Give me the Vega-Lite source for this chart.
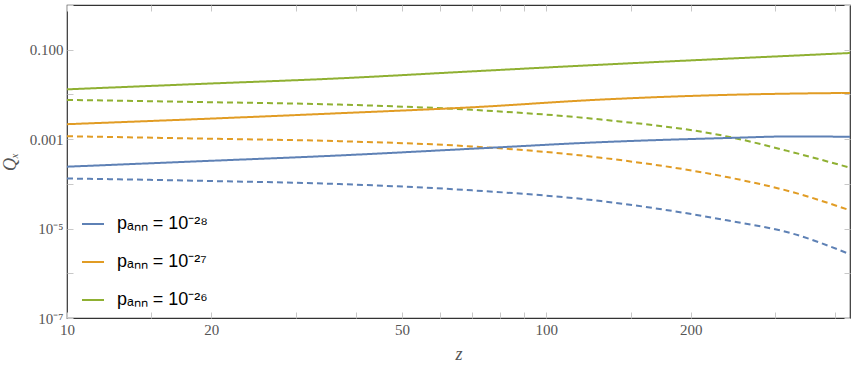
{
  "$schema": "https://vega.github.io/schema/vega-lite/v6.json",
  "width": 783,
  "height": 313,
  "autosize": {"type": "none"},
  "padding": {"left": 67, "top": 5, "right": 8, "bottom": 47},
  "background": "white",
  "config": {
    "view": {"stroke": "#333333", "strokeWidth": 1.2},
    "axis": {
      "grid": false,
      "domain": false,
      "labelFont": "Liberation Serif",
      "labelFontSize": 15,
      "labelColor": "#555555",
      "titleFont": "Liberation Serif",
      "titleFontStyle": "italic",
      "titleFontWeight": "normal",
      "titleFontSize": 18,
      "titleColor": "#555555",
      "tickColor": "#c8c8c8",
      "tickSize": -6,
      "tickWidth": 1
    },
    "legend": {
      "labelFont": "Liberation Sans",
      "labelFontSize": 18,
      "labelColor": "#000000",
      "symbolType": "stroke",
      "symbolSize": 484,
      "symbolStrokeWidth": 2,
      "symbolDash": [],
      "rowPadding": 17,
      "labelOffset": 12,
      "labelLimit": 300
    }
  },
  "data": {
    "values": [
      {"z": 10, "q": 0.0130, "p": "pₐₙₙ = 10⁻²⁶", "kind": "solid"},
      {"z": 19, "q": 0.0172, "p": "pₐₙₙ = 10⁻²⁶", "kind": "solid"},
      {"z": 37, "q": 0.0229, "p": "pₐₙₙ = 10⁻²⁶", "kind": "solid"},
      {"z": 70, "q": 0.0328, "p": "pₐₙₙ = 10⁻²⁶", "kind": "solid"},
      {"z": 130, "q": 0.0462, "p": "pₐₙₙ = 10⁻²⁶", "kind": "solid"},
      {"z": 238, "q": 0.0630, "p": "pₐₙₙ = 10⁻²⁶", "kind": "solid"},
      {"z": 326, "q": 0.0735, "p": "pₐₙₙ = 10⁻²⁶", "kind": "solid"},
      {"z": 430, "q": 0.0844, "p": "pₐₙₙ = 10⁻²⁶", "kind": "solid"},

      {"z": 10, "q": 0.00755, "p": "pₐₙₙ = 10⁻²⁶", "kind": "dashed"},
      {"z": 19, "q": 0.00675, "p": "pₐₙₙ = 10⁻²⁶", "kind": "dashed"},
      {"z": 37, "q": 0.00593, "p": "pₐₙₙ = 10⁻²⁶", "kind": "dashed"},
      {"z": 70, "q": 0.00452, "p": "pₐₙₙ = 10⁻²⁶", "kind": "dashed"},
      {"z": 130, "q": 0.00275, "p": "pₐₙₙ = 10⁻²⁶", "kind": "dashed"},
      {"z": 238, "q": 0.00115, "p": "pₐₙₙ = 10⁻²⁶", "kind": "dashed"},
      {"z": 326, "q": 0.000512, "p": "pₐₙₙ = 10⁻²⁶", "kind": "dashed"},
      {"z": 430, "q": 0.000230, "p": "pₐₙₙ = 10⁻²⁶", "kind": "dashed"},

      {"z": 10, "q": 0.00216, "p": "pₐₙₙ = 10⁻²⁷", "kind": "solid"},
      {"z": 19, "q": 0.00282, "p": "pₐₙₙ = 10⁻²⁷", "kind": "solid"},
      {"z": 37, "q": 0.00380, "p": "pₐₙₙ = 10⁻²⁷", "kind": "solid"},
      {"z": 70, "q": 0.00516, "p": "pₐₙₙ = 10⁻²⁷", "kind": "solid"},
      {"z": 130, "q": 0.00767, "p": "pₐₙₙ = 10⁻²⁷", "kind": "solid"},
      {"z": 238, "q": 0.00977, "p": "pₐₙₙ = 10⁻²⁷", "kind": "solid"},
      {"z": 326, "q": 0.01044, "p": "pₐₙₙ = 10⁻²⁷", "kind": "solid"},
      {"z": 430, "q": 0.0108, "p": "pₐₙₙ = 10⁻²⁷", "kind": "solid"},

      {"z": 10, "q": 0.00116, "p": "pₐₙₙ = 10⁻²⁷", "kind": "dashed"},
      {"z": 19, "q": 0.00103, "p": "pₐₙₙ = 10⁻²⁷", "kind": "dashed"},
      {"z": 37, "q": 0.000900, "p": "pₐₙₙ = 10⁻²⁷", "kind": "dashed"},
      {"z": 70, "q": 0.000686, "p": "pₐₙₙ = 10⁻²⁷", "kind": "dashed"},
      {"z": 130, "q": 0.000384, "p": "pₐₙₙ = 10⁻²⁷", "kind": "dashed"},
      {"z": 238, "q": 0.000142, "p": "pₐₙₙ = 10⁻²⁷", "kind": "dashed"},
      {"z": 326, "q": 0.0000656, "p": "pₐₙₙ = 10⁻²⁷", "kind": "dashed"},
      {"z": 430, "q": 0.0000256, "p": "pₐₙₙ = 10⁻²⁷", "kind": "dashed"},

      {"z": 10, "q": 0.000242, "p": "pₐₙₙ = 10⁻²⁸", "kind": "solid"},
      {"z": 19, "q": 0.000321, "p": "pₐₙₙ = 10⁻²⁸", "kind": "solid"},
      {"z": 37, "q": 0.000432, "p": "pₐₙₙ = 10⁻²⁸", "kind": "solid"},
      {"z": 70, "q": 0.000610, "p": "pₐₙₙ = 10⁻²⁸", "kind": "solid"},
      {"z": 130, "q": 0.000856, "p": "pₐₙₙ = 10⁻²⁸", "kind": "solid"},
      {"z": 238, "q": 0.00106, "p": "pₐₙₙ = 10⁻²⁸", "kind": "solid"},
      {"z": 326, "q": 0.00115, "p": "pₐₙₙ = 10⁻²⁸", "kind": "solid"},
      {"z": 430, "q": 0.00113, "p": "pₐₙₙ = 10⁻²⁸", "kind": "solid"},

      {"z": 10, "q": 0.000132, "p": "pₐₙₙ = 10⁻²⁸", "kind": "dashed"},
      {"z": 19, "q": 0.000117, "p": "pₐₙₙ = 10⁻²⁸", "kind": "dashed"},
      {"z": 37, "q": 0.0000990, "p": "pₐₙₙ = 10⁻²⁸", "kind": "dashed"},
      {"z": 70, "q": 0.0000716, "p": "pₐₙₙ = 10⁻²⁸", "kind": "dashed"},
      {"z": 130, "q": 0.0000413, "p": "pₐₙₙ = 10⁻²⁸", "kind": "dashed"},
      {"z": 238, "q": 0.0000153, "p": "pₐₙₙ = 10⁻²⁸", "kind": "dashed"},
      {"z": 326, "q": 0.00000774, "p": "pₐₙₙ = 10⁻²⁸", "kind": "dashed"},
      {"z": 430, "q": 0.00000267, "p": "pₐₙₙ = 10⁻²⁸", "kind": "dashed"}
    ]
  },
  "layer": [
    {
      "mark": {"type": "line", "interpolate": "monotone", "strokeWidth": 2, "clip": true},
      "encoding": {
        "x": {
          "field": "z", "type": "quantitative",
          "scale": {"type": "log", "domain": [10, 430], "nice": false},
          "axis": {
            "orient": "bottom",
            "title": "z",
            "titlePadding": 8,
            "values": [10, 15, 20, 30, 40, 50, 60, 70, 80, 90, 100, 150, 200, 300, 400],
            "labelExpr": "(datum.value == 10 || datum.value == 20 || datum.value == 50 || datum.value == 100 || datum.value == 200) ? datum.label : ''",
            "labelPadding": 10,
            "labelFlush": false
          }
        },
        "y": {
          "field": "q", "type": "quantitative",
          "scale": {"type": "log", "domain": [1e-7, 1], "nice": false},
          "axis": {
            "orient": "left",
            "title": "Qₓ",
            "titlePadding": 10,
            "values": [1e-7, 1e-6, 1e-5, 1e-4, 1e-3, 1e-2, 1e-1, 1],
            "labelExpr": "round(log(datum.value)/LN10) == -1 ? '0.100' : round(log(datum.value)/LN10) == -3 ? '0.001' : round(log(datum.value)/LN10) == -5 ? '10⁻⁵' : round(log(datum.value)/LN10) == -7 ? '10⁻⁷' : ''",
            "labelPadding": 10,
            "labelFlush": false
          }
        },
        "color": {
          "field": "p", "type": "nominal",
          "scale": {
            "domain": ["pₐₙₙ = 10⁻²⁸", "pₐₙₙ = 10⁻²⁷", "pₐₙₙ = 10⁻²⁶"],
            "range": ["#5E81B5", "#E19C24", "#8FB032"]
          },
          "legend": {"title": null, "orient": "none", "legendX": 14, "legendY": 207}
        },
        "strokeDash": {
          "field": "kind", "type": "nominal",
          "scale": {"domain": ["solid", "dashed"], "range": [[1, 0], [6, 4]]},
          "legend": null
        }
      }
    },
    {
      "mark": {"type": "line", "opacity": 0},
      "encoding": {
        "x": {
          "field": "z", "type": "quantitative",
          "axis": {
            "orient": "top", "title": null, "labels": false,
            "values": [10, 15, 20, 30, 40, 50, 60, 70, 80, 90, 100, 150, 200, 300, 400]
          }
        },
        "y": {
          "field": "q", "type": "quantitative",
          "axis": {
            "orient": "right", "title": null, "labels": false,
            "values": [1e-7, 1e-6, 1e-5, 1e-4, 1e-3, 1e-2, 1e-1, 1]
          }
        },
        "detail": {"field": "p"}
      }
    }
  ],
  "resolve": {"axis": {"x": "independent", "y": "independent"}}
}
